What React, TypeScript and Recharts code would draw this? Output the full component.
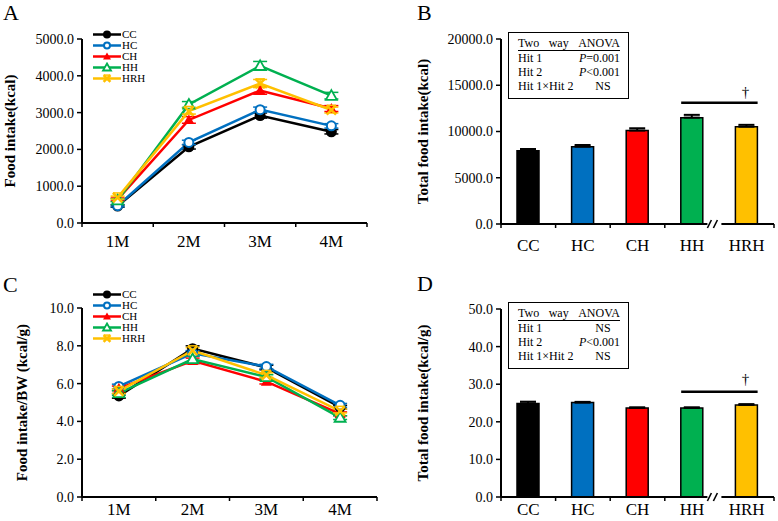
import React from "react";
import {
  LineChart,
  Line,
  BarChart,
  Bar,
  Cell,
  XAxis,
  YAxis,
  ErrorBar,
  Legend,
  ReferenceLine,
  ReferenceDot,
} from "recharts";

const FONT = "'Liberation Serif', 'Times New Roman', serif";

const months = ["1M", "2M", "3M", "4M"];
const groups = ["CC", "HC", "CH", "HH", "HRH"];
const groupColors = ["#000000", "#0070C0", "#FF0000", "#00B050", "#FFC000"];

// A: food intake (kcal) per month
const intakeCC = [460, 2070, 2920, 2480];
const intakeHC = [470, 2190, 3080, 2640];
const intakeCH = [640, 2800, 3600, 3110];
const intakeHH = [620, 3220, 4270, 3460];
const intakeHRH = [690, 3040, 3790, 3070];
const intakeErrCC = [30, 60, 70, 60];
const intakeErrHC = [30, 60, 70, 60];
const intakeErrCH = [40, 90, 100, 80];
const intakeErrHH = [40, 80, 120, 90];
const intakeErrHRH = [40, 80, 110, 80];

// C: food intake / body weight (kcal/g)
const bwCC = [5.35, 7.85, 6.85, 4.75];
const bwHC = [5.85, 7.6, 6.9, 4.85];
const bwCH = [5.75, 7.2, 6.1, 4.4];
const bwHH = [5.5, 7.3, 6.35, 4.2];
const bwHRH = [5.6, 7.75, 6.45, 4.55];
const bwErr = [0.12, 0.15, 0.12, 0.1];

// B: total food intake (kcal)
const totalKcal = [7930, 8360, 10100, 11500, 10520];
const totalKcalErr = [180, 180, 250, 300, 200];

// D: total food intake (kcal/g)
const totalPerG = [24.9, 25.1, 23.7, 23.7, 24.5];
const totalPerGErr = [0.45, 0.2, 0.15, 0.15, 0.2];

const anovaB = [
  ["Hit 1", "P=0.001"],
  ["Hit 2", "P<0.001"],
  ["Hit 1\u00d7Hit 2", "NS"],
];
const anovaD = [
  ["Hit 1", "NS"],
  ["Hit 2", "P<0.001"],
  ["Hit 1\u00d7Hit 2", "NS"],
];

const intakeSeries = [intakeCC, intakeHC, intakeCH, intakeHH, intakeHRH];
const intakeErrs = [intakeErrCC, intakeErrHC, intakeErrCH, intakeErrHH, intakeErrHRH];
const bwSeries = [bwCC, bwHC, bwCH, bwHH, bwHRH];

function lineRows(series: number[][], errs: number[][]) {
  return months.map((m, i) => {
    const row: Record<string, number | string> = { x: i + 0.5, month: m };
    groups.forEach((g, k) => {
      row[g] = series[k][i];
      row[g + "err"] = errs[k][i];
    });
    return row;
  });
}

const dataA = lineRows(intakeSeries, intakeErrs);
const dataC = lineRows(bwSeries, groups.map(() => bwErr));

const dataB = groups.map((g, i) => ({ x: i + 0.5, name: g, v: totalKcal[i], err: [0, totalKcalErr[i]] }));
const dataD = groups.map((g, i) => ({ x: i + 0.5, name: g, v: totalPerG[i], err: [0, totalPerGErr[i]] }));

function Marker({ cx, cy, group, r }: { cx: number; cy: number; group: string; r: number }) {
  const c = groupColors[groups.indexOf(group)];
  if (group === "CC") return <circle cx={cx} cy={cy} r={r} fill={c} />;
  if (group === "HC") return <circle cx={cx} cy={cy} r={r - 1} fill="#fff" stroke={c} strokeWidth={2} />;
  const tri = `${cx},${cy - r} ${cx + r},${cy + r * 0.75} ${cx - r},${cy + r * 0.75}`;
  if (group === "CH") return <polygon points={tri} fill={c} />;
  if (group === "HH") return <polygon points={tri} fill="#fff" stroke={c} strokeWidth={1.8} />;
  const d = r * 0.85;
  return (
    <g stroke={c} strokeWidth={2.6}>
      <line x1={cx - d} y1={cy - d} x2={cx + d} y2={cy + d} />
      <line x1={cx - d} y1={cy + d} x2={cx + d} y2={cy - d} />
      <line x1={cx - d} y1={cy - d} x2={cx + d} y2={cy - d} strokeWidth={1.5} />
    </g>
  );
}

function LegendBox() {
  return (
    <div style={{ fontFamily: FONT, fontSize: 11, lineHeight: "11px" }}>
      {groups.map((g, i) => (
        <div key={g} style={{ display: "flex", alignItems: "center", height: 11 }}>
          <svg width={28} height={11}>
            <line x1={0} y1={5.5} x2={28} y2={5.5} stroke={groupColors[i]} strokeWidth={2.5} />
            <Marker cx={14} cy={5.5} group={g} r={4} />
          </svg>
          <span style={{ marginLeft: 1 }}>{g}</span>
        </div>
      ))}
    </div>
  );
}

type TickProps = {
  x?: number;
  y?: number;
  payload?: { value: number };
  labels: string[];
  dy: number;
  breakAt?: number;
};

function CategoryTick({ x = 0, y = 0, payload, labels, dy, breakAt }: TickProps) {
  const v = payload ? payload.value : 0;
  if (Math.abs(v - Math.round(v)) < 1e-6) {
    if (breakAt !== undefined && Math.round(v) === breakAt) {
      return (
        <g>
          <rect x={x - 12} y={y - 4} width={14} height={8} fill="#fff" />
          <line x1={x - 12} y1={y + 4} x2={x - 8} y2={y - 4} stroke="#000" strokeWidth={1.6} />
          <line x1={x - 6} y1={y + 4} x2={x - 2} y2={y - 4} stroke="#000" strokeWidth={1.6} />
        </g>
      );
    }
    return <line x1={x} y1={y} x2={x} y2={y + 4} stroke="#000" strokeWidth={1.5} />;
  }
  return (
    <text x={x} y={y + dy} textAnchor="middle" fontSize={17} fontFamily={FONT} fill="#000">
      {labels[Math.floor(v)]}
    </text>
  );
}

const tickStyle = { fontSize: 14, fontFamily: FONT, fill: "#000" };
const axisLine = { stroke: "#000", strokeWidth: 2 };

function LinePanel({
  data,
  yMax,
  yStep,
  yLabel,
  labelX,
  rightMargin,
  top,
  bottom,
  dy,
}: {
  data: Record<string, number | string>[];
  yMax: number;
  yStep: number;
  yLabel: string;
  labelX: number;
  rightMargin: number;
  top: number;
  bottom: number;
  dy: number;
}) {
  const ticks: number[] = [];
  for (let v = 0; v <= yMax + 1e-9; v += yStep) ticks.push(+v.toFixed(4));
  return (
    <LineChart width={390} height={260} data={data} margin={{ top, right: rightMargin, left: 4, bottom }}>
      <XAxis
        type="number"
        dataKey="x"
        domain={[0, 4]}
        ticks={[0, 0.5, 1, 1.5, 2, 2.5, 3, 3.5, 4]}
        interval={0}
        tickLine={false}
        tickSize={0}
        tickMargin={0}
        height={30}
        axisLine={axisLine}
        tick={<CategoryTick labels={months} dy={dy} />}
      />
      <YAxis
        domain={[0, yMax]}
        ticks={ticks}
        interval={0}
        width={78}
        tickSize={5}
        tickMargin={3}
        tickFormatter={(v: number) => v.toFixed(1)}
        tick={tickStyle}
        tickLine={{ stroke: "#000", strokeWidth: 1.5 }}
        axisLine={axisLine}
        label={{
          value: yLabel,
          angle: -90,
          position: "insideLeft",
          offset: labelX - 4,
          style: { textAnchor: "middle" },
          fontSize: 15,
          fontWeight: "bold",
          fontFamily: FONT,
          fill: "#000",
        }}
      />
      <Legend
        layout="vertical"
        align="center"
        verticalAlign="middle"
        wrapperStyle={{ left: 93, top: 29, width: 70 }}
        content={() => <LegendBox />}
      />
      {groups.map((g, i) => (
        <Line
          key={g}
          type="linear"
          dataKey={g}
          stroke={groupColors[i]}
          strokeWidth={2.5}
          isAnimationActive={false}
          activeDot={false}
          dot={(p: any) => <Marker key={`${g}-${p.index}`} cx={p.cx} cy={p.cy} group={g} r={5.5} />}
        >
          <ErrorBar dataKey={g + "err"} width={7} stroke={groupColors[i]} strokeWidth={1.5} direction="y" />
        </Line>
      ))}
    </LineChart>
  );
}

function BarPanel({
  data,
  yMax,
  yStep,
  yLabel,
  top,
  bottom,
  dy,
  sigY,
  daggerY,
}: {
  data: { x: number; name: string; v: number; err: number[] }[];
  yMax: number;
  yStep: number;
  yLabel: string;
  top: number;
  bottom: number;
  dy: number;
  sigY: number;
  daggerY: number;
}) {
  const ticks: number[] = [];
  for (let v = 0; v <= yMax + 1e-9; v += yStep) ticks.push(+v.toFixed(4));
  return (
    <BarChart width={388} height={261} data={data} margin={{ top, right: 4, left: 20, bottom }}>
      <XAxis
        type="number"
        dataKey="x"
        domain={[0, 5]}
        ticks={[0, 0.5, 1, 1.5, 2, 2.5, 3, 3.5, 4, 4.5, 5]}
        interval={0}
        tickLine={false}
        tickSize={0}
        tickMargin={0}
        height={30}
        axisLine={axisLine}
        tick={<CategoryTick labels={groups} dy={dy} breakAt={4} />}
      />
      <YAxis
        domain={[0, yMax]}
        ticks={ticks}
        interval={0}
        width={91}
        tickSize={5}
        tickMargin={3}
        tickFormatter={(v: number) => v.toFixed(1)}
        tick={tickStyle}
        tickLine={{ stroke: "#000", strokeWidth: 1.5 }}
        axisLine={axisLine}
        label={{
          value: yLabel,
          angle: -90,
          position: "insideLeft",
          offset: 13,
          style: { textAnchor: "middle" },
          fontSize: 15,
          fontWeight: "bold",
          fontFamily: FONT,
          fill: "#000",
        }}
      />
      <Bar dataKey="v" barSize={22} stroke="#000" strokeWidth={1.5} isAnimationActive={false}>
        {data.map((d, i) => (
          <Cell key={d.name} fill={groupColors[i]} />
        ))}
        <ErrorBar dataKey="err" width={8} stroke="#000" strokeWidth={2} direction="y" />
      </Bar>
      <ReferenceLine
        segment={[
          { x: 3.3, y: sigY },
          { x: 4.7, y: sigY },
        ]}
        stroke="#000"
        strokeWidth={2.5}
      />
      <ReferenceDot
        x={4.48}
        y={daggerY}
        r={0}
        fill="none"
        stroke="none"
        label={{ value: "\u2020", position: "center", fontSize: 15, fontFamily: FONT, fill: "#000" }}
      />
    </BarChart>
  );
}

function AnovaBox({ rows, left, top }: { rows: string[][]; left: number; top: number }) {
  const cell = (t: string) =>
    t.startsWith("P") ? (
      <span>
        <i>P</i>
        {t.slice(1)}
      </span>
    ) : (
      t
    );
  return (
    <div
      style={{
        position: "absolute",
        left,
        top,
        width: 121,
        height: 67,
        boxSizing: "border-box",
        border: "1.5px solid #000",
        padding: "4px 8px 0 9px",
        fontFamily: FONT,
        fontSize: 12,
        lineHeight: "14px",
        background: "#fff",
      }}
    >
      <div style={{ display: "flex", justifyContent: "space-between", borderBottom: "1px solid #000", lineHeight: "13px" }}>
        <span>Two</span>
        <span>way</span>
        <span>ANOVA</span>
      </div>
      {rows.map((r) => (
        <div key={r[0]} style={{ display: "flex", justifyContent: "space-between" }}>
          <span>{r[0]}</span>
          <span style={r[1] === "NS" ? { width: 34, textAlign: "center" } : {}}>{cell(r[1])}</span>
        </div>
      ))}
    </div>
  );
}

const panelLetter = (t: string, left: number, top: number) => (
  <div style={{ position: "absolute", left, top, fontFamily: FONT, fontSize: 22, lineHeight: "22px" }}>{t}</div>
);

export default function App() {
  return (
    <div style={{ position: "absolute", left: 0, top: 0, width: 778, height: 521, background: "#fff", overflow: "hidden" }}>
      <div style={{ position: "absolute", left: 0, top: 0 }}>
        <LinePanel
          data={dataA}
          yMax={5000}
          yStep={1000}
          yLabel="Food intake(kcal)"
          labelX={10}
          rightMargin={23}
          top={39}
          bottom={7}
          dy={24}
        />
      </div>
      <div style={{ position: "absolute", left: 390, top: 0 }}>
        <BarPanel
          data={dataB}
          yMax={20000}
          yStep={5000}
          yLabel="Total food intake(kcal)"
          top={39}
          bottom={7}
          dy={27}
          sigY={13100}
          daggerY={14300}
        />
      </div>
      <div style={{ position: "absolute", left: 0, top: 260 }}>
        <LinePanel
          data={dataC}
          yMax={10}
          yStep={2}
          yLabel="Food intake/BW (kcal/g)"
          labelX={22}
          rightMargin={13}
          top={48}
          bottom={-7}
          dy={18}
        />
      </div>
      <div style={{ position: "absolute", left: 390, top: 260 }}>
        <BarPanel
          data={dataD}
          yMax={50}
          yStep={10}
          yLabel="Total food intake(kcal/g)"
          top={49}
          bottom={-6}
          dy={18}
          sigY={28}
          daggerY={31.6}
        />
      </div>
      <AnovaBox rows={anovaB} left={508} top={32} />
      <AnovaBox rows={anovaD} left={508} top={302} />
      {panelLetter("A", 3, 2)}
      {panelLetter("B", 417, 2)}
      {panelLetter("C", 3, 274)}
      {panelLetter("D", 417, 273)}
    </div>
  );
}
